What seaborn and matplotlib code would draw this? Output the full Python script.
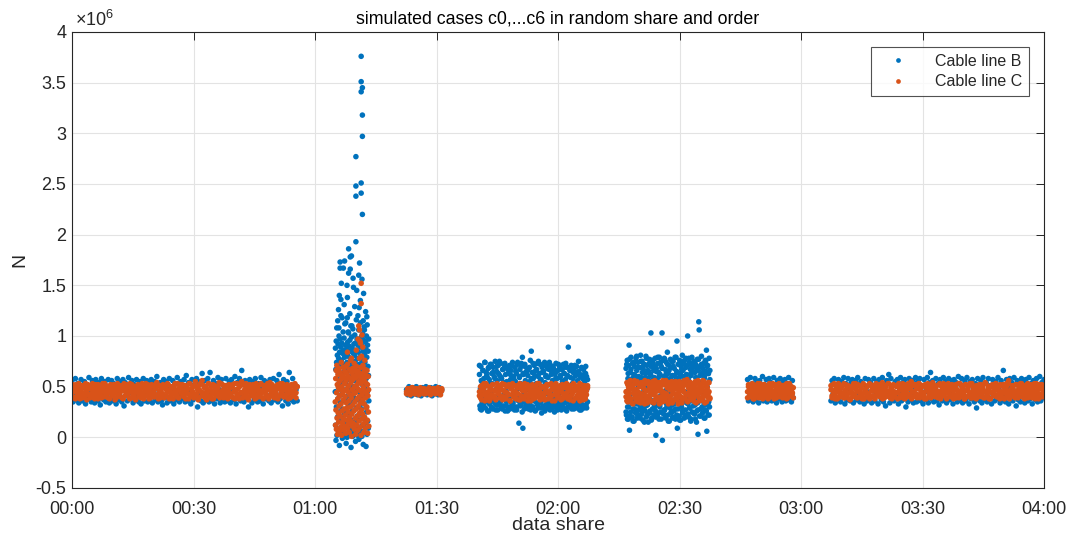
import numpy as np
import pandas as pd
import matplotlib
matplotlib.use("Agg")
import matplotlib.pyplot as plt
from matplotlib.lines import Line2D
from matplotlib.ticker import FuncFormatter, MultipleLocator
import seaborn as sns

# ---------------- data (values in units of 1e4, times in minutes) ----------------
seg_start = [0.0, 65.0, 82.6, 100.6, 136.8, 166.8, 187.4]
seg_end = [55.6, 73.3, 91.3, 127.3, 157.5, 178.1, 240.0]

b_seg1 = [56, 35, 44, 58, 37, 53, 34, 49, 57, 36, 41, 55, 33, 52, 38, 59, 45, 35, 56, 40,
          34, 57, 47, 36, 54, 32, 58, 43, 37, 55, 35, 50, 57, 34, 39, 56, 36, 53, 46, 33,
          58, 37, 42, 55, 35, 57, 31, 54, 48, 36, 59, 38, 44, 56, 34, 52, 37, 57, 41, 35,
          55, 33, 50, 58, 36, 43, 56, 35, 53, 38, 57, 34, 47, 55, 37, 60, 35, 45, 54, 36,
          32, 57, 39, 55, 34, 51, 58, 36, 44, 56, 33, 53, 37, 59, 42, 35, 55, 38, 48, 57,
          35, 61, 36, 54, 46, 33, 57, 37, 52, 40, 58, 30, 55, 43, 36, 63, 34, 56, 49, 37,
          58, 35, 64, 44, 36, 56, 33, 53, 38, 59, 47, 34, 57, 37, 51, 35, 58, 41, 36, 55,
          34, 57, 45, 37, 60, 33, 54, 39, 58, 36, 66, 42, 35, 56, 38, 52, 30, 57, 46, 34,
          55, 37, 58, 43, 35, 53, 36, 59, 48, 33, 56, 38, 54, 41, 36, 57, 34, 50, 58, 37,
          44, 56, 35, 62, 38, 53, 31, 57, 46, 36, 55, 33, 64, 40, 37, 58, 35, 52, 47, 36]
c_seg1 = [44, 50, 39, 47, 52, 41, 46, 38, 51, 43, 49, 40, 53, 45, 42, 48, 39, 51, 44, 47,
          41, 52, 46, 38, 49, 43, 51, 40, 47, 53, 42, 45, 39, 50, 44, 48, 41, 52, 37, 46,
          49, 42, 51, 45, 39, 48, 53, 41, 46, 43, 50, 38, 47, 52, 44, 40, 49, 45, 51, 42,
          47, 39, 53, 44, 50, 41, 46, 52, 38, 48, 43, 51, 45, 40, 49, 54, 42, 46, 39, 50,
          43, 51, 40, 48, 45, 52, 38, 47, 42, 50, 44, 53, 41, 46, 39, 49, 52, 43, 47, 40,
          51, 44, 48, 38, 53, 42, 46, 50, 40, 55, 43, 47, 39, 52, 45, 56, 41, 49, 44, 37,
          46, 53, 41, 50, 44, 38, 51, 47, 42, 49, 54, 40, 45, 52, 39, 48, 43, 51, 46, 41,
          49, 40, 52, 45, 38, 47, 53, 42, 50, 44, 55, 39, 46, 51, 43, 48, 37, 52, 45, 41,
          52, 43, 47, 39, 50, 45, 41, 53, 46, 38, 49, 44, 51, 40, 47, 54, 42, 48, 45, 39,
          44, 51, 38, 48, 53, 42, 46, 50, 40, 47, 52, 43, 49, 39, 45, 51, 41, 48, 44, 50]
c_seg1_more = [40, 52, 45, 38, 50, 43, 53, 41, 47, 39, 51, 44, 49, 37, 52, 42, 48, 40, 53, 46,
               38, 50, 44, 52, 41, 47, 39, 53, 45, 40, 51, 43, 49, 38, 52, 46, 41, 50, 44, 39,
               53, 42, 47, 40, 51, 38, 49, 45, 52, 41, 44, 53, 39, 48, 42, 50, 37, 46, 52, 40,
               49, 43, 51, 38, 47, 53, 41, 45, 50, 39, 52, 44, 40, 48, 53, 42, 38, 51, 46, 43,
               52, 39, 48, 41, 53, 45, 40, 50, 43, 38, 51, 47, 42, 53, 39, 49, 44, 52, 41, 46,
               38, 51, 43, 53, 40, 48, 45, 39, 52, 42, 50, 37, 47, 53, 41, 44, 51, 39, 49, 42,
               53, 40, 46, 38, 52, 43, 49, 41, 50, 44, 39, 53, 42, 47, 40, 51, 45, 38, 52, 43,
               41, 50, 39, 53, 46, 42, 48, 38, 51, 44, 52, 40, 47, 53, 39, 45, 50, 41, 49, 43,
               50, 38, 53, 42, 47, 40, 52, 44, 39, 51, 46, 41, 53, 38, 49, 43, 52, 40, 48, 45,
               39, 52, 41, 50, 44, 53, 40, 47, 42, 51, 38, 49, 45, 52, 41, 46, 53, 39, 50]

b_spike = [45, 88, 12, 67, -3, 95, 30, 74, 108, 2, 58, 81, 20, 115, 38, 92, 7, 63, 78, 25,
           100, 51, -8, 84, 16, 70, 97, 34, 5, 89, 120, 42, 76, 10, 61, 93, 28, 83, -1, 55,
           72, 19, 104, 47, 86, 3, 65, 98, 24, 79, 36, 112, 9, 68, 91, 14, 53, 82, -6, 40,
           87, 27, 74, 0, 118, 57, 94, 11, 66, 80, 32, 103, 4, 49, 90, 22, 71, 8, 96, 60,
           18, 85, 43, 110, -10, 77, 35, 99, 6, 64, 88, 26, 73, 1, 107, 50, 83, 15, 69, 92,
           39, 4, 81, 56, 101, 13, 75, 93, -4, 62, 86, 29, 116, 8, 70, 46, 97, 21, 78, 2,
           59, 91, 17, 84, 37, 106, -2, 72, 95, 31, 68, 10, 89, 44, 113, 23, 80, 6, 65, 99,
           28, 76, 1, 90, 52, 12, 102, 41, 85, -7, 71, 96, 19, 63, 109, 5, 82, 33, 74, 48,
           94, 14, 67, 87, -9, 58, 100, 25, 79, 3, 111, 45, 91, 16, 70, 85, 9, 61, 97, 36]
c_spike = [35, 12, 58, 27, 66, 8, 44, 71, 19, 52, 3, 38, 62, 24, 49, 15, 68, 31, 55, 6,
           41, 64, 21, 47, 10, 57, 33, 74, 2, 50, 26, 61, 14, 43, 69, 18, 37, 59, 7, 46,
           28, 53, 65, 11, 40, 22, 70, 4, 56, 34, 63, 17, 48, 29, 72, 9, 45, 25, 60, 13,
           51, 36, 5, 67, 20, 42, 58, 30, 76, 16, 54, 39, 1, 64, 23, 47, 11, 68, 32, 57,
           14, 61, 43, 26, 73, 8, 50, 35, 66, 19, 44, 3, 59, 28, 70, 12, 52, 38, 63, 21,
           48, 7, 65, 31, 55, 16, 40, 78, 24, 60, 10, 46, 34, 69, 2, 53, 27, 62, 18, 42,
           56, 23, 37, 71, 13, 49, 64, 5, 33, 58, 20, 45, 67, 9, 39, 54, 15, 61, 29, 44,
           30, 66, 17, 52, 4, 41, 60, 25, 47, 11]

b_spike_out_t = [71.4, 71.4, 71.7, 71.4, 71.7, 71.7, 70.1, 70.1, 71.4, 71.4, 70.1, 71.7,
                 70.1, 68.3, 68.7, 69.0, 66.2, 67.3, 67.0, 66.2, 71.0, 68.7, 68.3, 70.8,
                 71.6, 66.5, 67.9, 69.5, 70.3, 72.0, 66.0, 68.0, 71.2, 67.2, 69.8, 65.8,
                 72.5, 68.6, 70.6, 66.7, 71.9, 67.6, 69.1, 65.9, 72.2, 68.2, 70.9, 66.4,
                 69.4, 72.8]
b_spike_out_v = [376, 351, 345, 341, 318, 297, 277, 248, 251, 241, 238, 220,
                 193, 186, 178, 179, 173, 174, 167, 167, 172, 166, 162, 160,
                 156, 152, 150, 148, 145, 142, 140, 138, 135, 131, 129, 126,
                 124, 122, 120, 118, 115, 113, 110, 108, 106, 104, 128, 136,
                 157, 119]
c_spike_out_t = [71.4, 71.4, 71.0, 71.6, 70.6, 71.2, 71.8, 70.2, 68.0, 71.5, 69.0, 72.3, 70.8, 71.1]
c_spike_out_v = [152, 132, 106, 101, 97, 93, 89, 86, 84, 80, 78, 76, 110, 95]

b_seg3 = [47, 42, 50, 44, 41, 49, 46, 43, 50, 42, 48, 45, 41, 49, 43, 47, 50, 42, 46, 44,
          49, 41, 48, 43, 50, 45, 42, 49, 44, 47]
c_seg3 = [45, 48, 43, 47, 44, 49, 46, 43, 48, 45, 44, 47, 46, 48, 43, 45, 47, 44, 48, 46,
          43, 47, 45, 48, 44, 46, 47, 43, 45, 46]
c_seg3_more = [43, 48, 46, 42, 49, 44, 47, 43, 48, 45, 42, 49, 46, 44, 48, 43, 47, 45, 49, 42,
               46, 48, 44, 43, 47, 49, 45, 42, 48]

b_seg4 = [62, 31, 48, 70, 27, 55, 38, 66, 33, 58, 44, 74, 29, 51, 64, 35, 59, 41, 68, 26,
          57, 36, 72, 45, 30, 63, 53, 28, 69, 39, 60, 34, 75, 47, 32, 65, 56, 27, 71, 42,
          33, 61, 49, 73, 29, 58, 37, 67, 31, 54, 43, 70, 26, 62, 46, 35, 68, 52, 30, 64,
          40, 71, 28, 57, 66, 34, 50, 74, 32, 60, 45, 27, 69, 55, 38, 63, 30, 72, 48, 36,
          14, 59, 67, 31, 53, 73, 35, 79, 9, 62, 42, 28, 70, 56, 33, 65, 47, 29, 61, 39,
          68, 32, 55, 76, 27, 85, 44, 64, 30, 58, 36, 71, 49, 26, 66, 53, 34, 73, 41, 60,
          29, 63, 51, 72, 35, 57, 24, 69, 46, 31, 65, 38, 74, 54, 28, 61, 43, 70, 33, 59,
          37, 67, 52, 27, 71, 45, 32, 64, 56, 30, 68, 40, 25, 62, 48, 73, 34, 58, 29, 66,
          50, 36, 70, 31, 61, 44, 27, 67, 55, 33, 72, 39, 63, 28, 57, 46, 69, 35, 60, 30,
          89, 42, 10, 66, 32, 59, 71, 28, 53, 37, 64, 30, 68, 47, 34, 61, 29, 70, 40, 56,
          33, 65, 45, 27, 62, 51, 36, 69, 31, 58, 43, 67, 29, 55, 38, 63, 32, 60, 48, 35]
b_seg4_more = [71, 28, 56, 34, 66, 30, 74, 38, 61, 26, 69, 33, 53, 72, 29, 64, 36, 58, 27, 70,
               32, 63, 75, 35, 59, 28, 67, 40, 73, 31, 55, 26, 68, 37, 62, 30, 71, 34, 57, 29,
               65, 27, 74, 39, 60, 33, 70, 25, 63, 36, 72, 31, 54, 66, 28, 69, 35, 58, 30, 73,
               38, 61, 27, 67, 32, 75, 34, 56, 29, 64, 37, 71, 26, 60, 33, 68, 30, 74, 36, 62,
               28, 70, 35, 57, 31, 65, 27, 72, 39, 59, 32, 67, 29, 63, 34, 73, 26, 61, 37, 69,
               30, 66, 33, 58, 28, 71, 36, 64, 31, 75, 35, 60, 27, 68, 32, 62, 38, 70, 29, 57]
c_seg4 = [45, 39, 51, 42, 48, 36, 53, 44, 40, 50, 38, 47, 52, 41, 46, 37, 49, 43, 51, 39,
          47, 53, 40, 45, 38, 50, 43, 52, 36, 48, 42, 46, 51, 39, 44, 49, 37, 53, 41, 47,
          50, 38, 46, 42, 52, 40, 48, 36, 45, 51, 43, 39, 49, 53, 41, 47, 44, 38, 50, 42,
          37, 49, 44, 52, 39, 46, 41, 50, 47, 36, 53, 43, 48, 40, 51, 45, 38, 49, 42, 52,
          44, 40, 51, 37, 48, 43, 53, 46, 39, 50, 42, 47, 36, 52, 45, 41, 49, 38, 46, 51]
c_seg4_more = [41, 50, 37, 47, 53, 43, 39, 51, 45, 36, 49, 42, 52, 40, 46, 38, 53, 44, 48, 41,
               51, 37, 46, 52, 39, 44, 50, 42, 36, 48, 53, 40, 45, 38, 51, 43, 49, 37, 52, 46,
               39, 53, 42, 48, 36, 50, 44, 41, 52, 38, 47, 51, 40, 45, 53, 37, 49, 43, 39, 50,
               46, 52, 38, 44, 41, 53, 36, 48, 42, 51, 47, 39, 50, 45, 37, 52, 43, 40, 49, 53,
               38, 46, 51, 41, 44, 36, 52, 48, 39, 50, 43, 53, 40, 47, 37, 51, 45, 42, 49]

b_seg5 = [68, 22, 45, 76, 30, 58, 18, 71, 91, 7, 40, 64, 25, 79, 35, 55, 20, 73, 48, 28,
          62, 16, 70, 38, 57, 24, 78, 33, 66, 19, 52, 74, 27, 60, 42, 21, 69, 31, 81, 36,
          59, 23, 75, 44, 17, 67, 29, 54, 72, 34, 26, 63, 80, 20, 49, 71, 32, 58, 15, 65,
          39, 77, 24, 61, 37, 103, 70, 19, 56, 28, 74, 43, 66, 22, 59, 31, 78, 26, 2, 68,
          35, 57, 21, 73, 47, 64, 18, 79, 30, 62, 41, 25, 70, 53, 103, -3, 36, 76, 23, 60,
          78, 27, 67, 46, 19, 74, 33, 58, 84, 22, 63, 39, 71, 16, 55, 29, 77, 44, 24, 69,
          32, 61, 20, 75, 50, 26, 68, 37, 79, 18, 57, 42, 65, 95, 9, 28, 72, 34, 59, 21,
          76, 40, 63, 17, 70, 30, 54, 81, 24, 66, 35, 73, 19, 60, 45, 27, 78, 38, 62, 22,
          71, 100, 33, 57, 20, 74, 48, 29, 67, 16, 61, 36, 79, 25, 52, 69, 31, 75, 43, 23,
          64, 18, 72, 39, 58, 26, 77, 34, 3, 66, 114, 106, 21, 70, 47, 28, 62, 80, 37, 55,
          24, 68, 41, 73, 19, 60, 32, 76, 27, 65, 86, 6, 50, 71, 22, 63, 35, 78, 30, 57]
b_seg5_more = [25, 72, 18, 63, 30, 77, 21, 67, 35, 58, 16, 74, 28, 61, 39, 80, 23, 69, 33, 56,
               19, 75, 27, 64, 37, 71, 15, 59, 31, 78, 22, 66, 40, 73, 26, 62, 17, 76, 34, 57,
               29, 70, 20, 65, 36, 79, 24, 60, 32, 74, 18, 68, 38, 55, 27, 77, 21, 63, 30, 72,
               16, 66, 35, 58, 25, 75, 19, 70, 33, 61, 28, 79, 22, 64, 39, 57, 17, 73, 31, 67,
               26, 60, 36, 76, 20, 69, 34, 56, 23, 78, 29, 62, 18, 71, 37, 65, 24, 74, 32, 59,
               15, 68, 27, 77, 38, 61, 21, 72, 30, 64, 35, 58, 19, 75, 26, 70, 33, 63, 22, 66]
c_seg5 = [45, 36, 52, 41, 55, 38, 48, 34, 50, 43, 56, 39, 47, 53, 35, 44, 51, 40, 54, 37,
          49, 42, 33, 53, 46, 38, 55, 41, 50, 36, 47, 52, 43, 34, 56, 45, 39, 51, 37, 48,
          54, 40, 46, 35, 52, 44, 38, 56, 42, 49, 33, 53, 47, 41, 55, 36, 50, 43, 48, 39,
          37, 51, 44, 55, 40, 48, 34, 53, 46, 39, 52, 42, 57, 36, 49, 45, 54, 38, 47, 43,
          50, 35, 53, 42, 47, 56, 39, 44, 52, 37, 49, 41, 55, 34, 46, 51, 40, 54, 45, 38]
c_seg5_more = [40, 54, 35, 49, 44, 56, 38, 51, 33, 47, 53, 42, 36, 55, 45, 39, 50, 34, 52, 43,
               37, 48, 56, 41, 46, 34, 53, 39, 51, 44, 35, 55, 42, 48, 37, 52, 40, 54, 46, 33,
               50, 38, 45, 56, 41, 36, 53, 43, 49, 35, 54, 39, 47, 52, 34, 44, 51, 37, 55, 42,
               48, 33, 46, 53, 40, 36, 50, 45, 56, 38, 43, 52, 35, 49, 41, 54, 37, 47, 51, 39,
               44, 55, 34, 48, 42, 53, 36, 50, 46, 38, 56, 41, 45, 52, 35, 49, 43, 54, 39]

b_seg6 = [57, 36, 44, 59, 38, 53, 35, 48, 58, 37, 55, 41, 34, 56, 46, 39, 60, 36, 52, 43,
          57, 35, 49, 58, 38, 54, 36, 45, 59, 37, 51, 34, 56, 42, 38, 58, 47, 35, 55, 40,
          57, 36, 53, 44, 59, 37, 50, 35, 56, 39]
c_seg6 = [45, 50, 40, 48, 43, 52, 38, 47, 51, 41, 46, 53, 39, 49, 44, 50, 42, 47, 52, 40,
          45, 49, 38, 51, 43, 48, 46, 53, 41, 44, 50, 39, 47, 52, 42, 45, 49, 40, 51, 46,
          43, 48, 53, 39, 46, 50, 41, 47, 44, 49]
c_seg6_more = [39, 52, 44, 48, 41, 53, 46, 38, 50, 43, 51, 40, 47, 53, 42, 49, 38, 52, 45, 41,
               50, 44, 39, 53, 47, 40, 51, 43, 38, 52, 46, 41, 49, 53, 40, 45, 51, 39, 48, 42,
               52, 38, 47, 44, 53, 41, 50, 43, 39]

b_seg7 = [36, 56, 43, 58, 34, 52, 38, 57, 47, 35, 55, 40, 59, 33, 53, 37, 58, 45, 36, 54,
          57, 34, 49, 56, 37, 59, 42, 35, 55, 38, 52, 33, 58, 46, 36, 57, 39, 54, 34, 50,
          58, 36, 44, 55, 33, 57, 48, 37, 59, 35, 53, 31, 56, 41, 62, 34, 58, 38, 51, 36,
          55, 40, 57, 33, 46, 59, 36, 54, 38, 57, 30, 52, 35, 58, 43, 37, 56, 34, 49, 59,
          35, 55, 39, 58, 36, 51, 33, 57, 45, 37, 59, 34, 54, 64, 38, 56, 35, 47, 58, 36,
          53, 32, 57, 41, 36, 59, 38, 55, 34, 50, 58, 37, 44, 56, 33, 57, 39, 54, 35, 60,
          37, 52, 58, 34, 46, 56, 36, 59, 40, 33, 55, 38, 57, 48, 35, 53, 29, 58, 42, 36,
          56, 34, 59, 45, 37, 54, 35, 58, 39, 51, 33, 57, 43, 36, 55, 38, 59, 47, 34, 56,
          37, 66, 41, 35, 57, 50, 33, 58, 38, 54, 36, 59, 44, 31, 56, 37, 53, 35, 58, 40,
          55, 34, 57, 48, 36, 59, 38, 53, 33, 56, 42, 37, 58, 35, 51, 60, 36, 54, 39, 57]
c_seg7 = [47, 41, 52, 44, 38, 50, 45, 53, 40, 48, 43, 51, 39, 46, 52, 42, 49, 44, 37, 50,
          43, 49, 40, 53, 46, 39, 51, 44, 48, 41, 52, 38, 47, 45, 50, 42, 53, 40, 46, 49,
          51, 38, 45, 48, 42, 52, 40, 47, 54, 43, 39, 50, 46, 41, 53, 44, 49, 38, 51, 45,
          40, 50, 44, 52, 39, 47, 42, 53, 46, 38, 49, 43, 51, 41, 48, 55, 45, 40, 52, 43,
          48, 42, 53, 39, 46, 50, 41, 44, 52, 38, 47, 51, 43, 49, 40, 54, 45, 42, 50, 46,
          39, 52, 45, 41, 49, 53, 43, 47, 38, 51, 44, 48, 40, 52, 46, 42, 50, 39, 47, 53,
          45, 40, 51, 47, 43, 38, 52, 46, 49, 41, 53, 44, 39, 50, 48, 42, 51, 45, 40, 47,
          52, 43, 48, 39, 54, 45, 41, 50, 46, 38, 51, 44, 49, 42, 53, 47, 40, 46, 52, 41,
          44, 50, 38, 47, 53, 42, 56, 45, 40, 51, 48, 43, 39, 52, 46, 41, 49, 44, 53, 40,
          49, 42, 46, 52, 39, 48, 44, 51, 41, 47, 53, 38, 45, 50, 43, 48, 40, 52, 46, 44]
c_seg7_more = [51, 39, 46, 53, 41, 48, 38, 52, 44, 40, 50, 43, 53, 39, 47, 42, 51, 38, 49, 45,
               40, 53, 42, 48, 39, 52, 45, 41, 50, 38, 53, 44, 47, 40, 51, 43, 38, 52, 46, 41,
               49, 39, 53, 42, 50, 44, 40, 52, 38, 47, 43, 51, 41, 53, 45, 39, 48, 42, 52, 40,
               44, 51, 38, 53, 47, 41, 50, 39, 52, 43, 46, 40, 53, 42, 49, 38, 51, 45, 41, 52,
               39, 48, 53, 40, 44, 51, 42, 38, 50, 46, 53, 41, 47, 39, 52, 43, 49, 40, 51, 45,
               42, 53, 38, 50, 44, 41, 52, 46, 39, 53, 43, 48, 40, 51, 38, 47, 52, 42, 45, 39,
               53, 41, 49, 44, 38, 52, 40, 47, 51, 43, 39, 53, 46, 42, 50, 38, 48, 41, 52, 44,
               40, 51, 45, 39, 53, 42, 47, 38, 50, 44, 52, 41, 46, 53, 40, 49, 43, 38, 51, 45,
               52, 39, 44, 50, 41, 53, 38, 47, 42, 51, 46, 40, 52, 43, 39, 49, 53, 41, 48, 45,
               38, 51, 43, 53, 40, 46, 52, 39, 50, 44, 41, 53, 47, 38, 52, 42, 49, 40, 51]

series_names = ["Cable line B", "Cable line C"]
series_colors = ["#0072BD", "#D95319"]
x_tick_labels = ["00:00", "00:30", "01:00", "01:30", "02:00", "02:30", "03:00", "03:30", "04:00"]
value_unit = 1e4

b_segments = [[b_seg1], [b_spike], [b_seg3], [b_seg4, b_seg4_more], [b_seg5, b_seg5_more],
              [b_seg6], [b_seg7]]
c_segments = [[c_seg1, c_seg1_more], [c_spike], [c_seg3, c_seg3_more], [c_seg4, c_seg4_more],
              [c_seg5, c_seg5_more], [c_seg6, c_seg6_more], [c_seg7, c_seg7_more]]

# ---------------- build table ----------------
frames = []
for name, segs, out_t, out_v in [(series_names[0], b_segments, b_spike_out_t, b_spike_out_v),
                                  (series_names[1], c_segments, c_spike_out_t, c_spike_out_v)]:
    for s0, s1, passes in zip(seg_start, seg_end, segs):
        for vals in passes:
            t = np.linspace(s0, s1, len(vals))
            frames.append(pd.DataFrame({"time": t, "N": np.array(vals) * value_unit, "series": name}))
    frames.append(pd.DataFrame({"time": out_t, "N": np.array(out_v) * value_unit, "series": name}))
df = pd.concat(frames, ignore_index=True)

# ---------------- plot ----------------
sns.set_theme(style="white")
plt.rcParams["font.family"] = ["Liberation Sans", "DejaVu Sans"]
plt.rcParams["mathtext.fontset"] = "custom"
plt.rcParams["mathtext.rm"] = "Liberation Sans"
plt.rcParams["mathtext.it"] = "Liberation Sans"

fig = plt.figure(figsize=(10.74, 5.47), dpi=100)
ax = fig.add_axes([72 / 1074, 1 - 488 / 547, (1044 - 72) / 1074, (488 - 32) / 547])

sns.scatterplot(data=df, x="time", y="N", hue="series", hue_order=series_names,
                palette=series_colors, s=16, linewidth=0, edgecolor="none",
                alpha=1.0, legend=False, ax=ax)

ax.set_xlim(0, 240)
ax.set_ylim(-0.5e6, 4e6)
ax.xaxis.set_major_locator(MultipleLocator(30))
ax.xaxis.set_major_formatter(FuncFormatter(lambda v, p: x_tick_labels[int(round(v / 30))] if 0 <= round(v / 30) < len(x_tick_labels) else ""))
ax.yaxis.set_major_locator(MultipleLocator(0.5e6))
ax.yaxis.set_major_formatter(FuncFormatter(lambda v, p: "%g" % (v / 1e6)))

txt_color = "#262626"
ax.grid(True, color="#e3e3e3", linewidth=0.8)
ax.set_axisbelow(True)
for sp in ax.spines.values():
    sp.set_color(txt_color)
    sp.set_linewidth(0.8)
    sp.set_visible(True)
ax.tick_params(direction="in", length=6, width=0.7, top=True, right=True,
               labelsize=13, colors=txt_color)
ax.tick_params(axis="x", pad=9)
ax.tick_params(axis="y", pad=4)

ax.set_xlabel("data share", fontsize=14, color=txt_color, labelpad=0)
ax.set_ylabel("N", fontsize=14, color=txt_color, labelpad=5)
ax.set_title("simulated cases c0,...c6 in random share and order", fontsize=12.8, color="#000000", pad=6)
ax.text(0.003, 1.004, r"$\times10^{6}$", transform=ax.transAxes, ha="left", va="bottom",
        fontsize=13, color=txt_color)

handles = [Line2D([], [], linestyle="none", marker="o", markersize=3.4,
                  markerfacecolor=c, markeredgecolor="none") for c in series_colors]
leg = ax.legend(handles, series_names, loc="upper right", fontsize=11.5, frameon=True,
                fancybox=False, handlelength=2.6, handletextpad=1.0, borderpad=0.4,
                labelspacing=0.35, borderaxespad=0.95)
leg.get_frame().set_edgecolor(txt_color)
leg.get_frame().set_linewidth(0.8)
for t in leg.get_texts():
    t.set_color(txt_color)

fig.savefig("out.png", dpi=100)
